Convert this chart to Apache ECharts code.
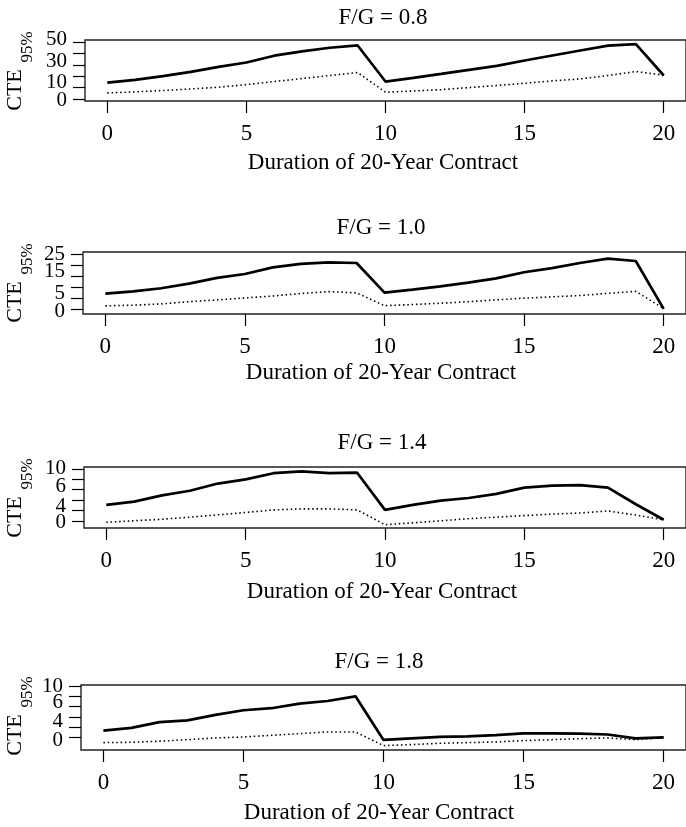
<!DOCTYPE html>
<html>
<head>
<meta charset="utf-8">
<script src="https://cdn.jsdelivr.net/npm/echarts@6/dist/echarts.min.js"></script>
<style>
html,body{margin:0;padding:0;background:#fff;}
#chart{width:686px;height:827px;}
</style>
</head>
<body>
<div id="chart"></div>
<script>
// ---- data ----
const durations = [0,1,2,3,4,5,6,7,8,9,10,11,12,13,14,15,16,17,18,19,20];
const panelTitles = ['F/G = 0.8','F/G = 1.0','F/G = 1.4','F/G = 1.8'];
const xAxisTitle = 'Duration of 20-Year Contract';
const xTickValues = [0,5,10,15,20];

const solid08  = [14.4,16.8,20.0,23.8,28.2,32.0,38.0,41.8,45.0,47.0,15.3,18.5,22.0,25.6,29.0,33.8,38.2,42.6,46.8,48.2,20.6];
const dotted08 = [5.3,6.2,7.4,8.8,10.3,12.6,15.3,17.9,20.6,23.2,5.9,7.0,8.2,10.0,11.8,13.8,15.9,17.6,20.6,24.1,20.9];
const solid10  = [7.3,8.3,9.7,11.8,14.4,16.2,19.2,20.8,21.5,21.2,7.7,9.1,10.6,12.3,14.2,17.0,18.9,21.2,23.2,22.1,0.3];
const dotted10 = [1.7,2.0,2.6,3.6,4.4,5.3,6.2,7.3,8.2,7.6,1.8,2.3,2.9,3.6,4.4,5.2,5.8,6.4,7.4,8.3,0.5];
const solid14  = [3.06,3.7,4.9,5.8,7.2,8.0,9.2,9.55,9.2,9.3,2.1,3.06,3.9,4.4,5.2,6.4,6.8,6.9,6.4,3.2,0.2];
const dotted14 = [-0.3,0.0,0.3,0.7,1.15,1.6,2.1,2.3,2.3,2.1,-0.76,-0.4,0.0,0.4,0.7,1.0,1.3,1.5,1.9,1.1,0.2];
const solid18  = [1.35,1.9,3.0,3.35,4.4,5.3,5.7,6.6,7.1,8.0,-0.45,-0.13,0.13,0.26,0.5,0.84,0.84,0.77,0.6,-0.13,0.06];
const dotted18 = [-0.97,-0.9,-0.7,-0.4,-0.06,0.13,0.45,0.77,1.1,1.1,-1.55,-1.35,-1.1,-0.97,-0.84,-0.58,-0.4,-0.2,-0.06,-0.4,0.0];

const yTicks08 = [0,10,20,30,40,50];  const yLabels08 = [0,10,30,50];
const yTicks10 = [0,5,10,15,20,25];   const yLabels10 = [0,5,15,25];
const yTicks14 = [0,2,4,6,8,10];      const yLabels14 = [0,4,6,10];
const yTicks18 = [0,2,4,6,8,10];      const yLabels18 = [0,4,6,10];

const yRange08 = [-1.8, 51.8];
const yRange10 = [-2.0, 26.2];
const yRange14 = [-1.4, 10.4];
const yRange18 = [-2.4, 10.2];
const xRange = [-0.8, 20.8];

// ---- layout (pixels) ----
const FONT = '"Liberation Serif","DejaVu Serif",serif';
// vertical nudges (px, + = down) of the y tick labels, in the order of the yLabels arrays
const panels = [
  {solid: solid08, dotted: dotted08, yTicks: yTicks08, yLabels: yLabels08, yRange: yRange08, nudge: [2,-5,-3,-3], left: 85, top: 40,  height: 61, titleY: 18,  xTitleY: 163},
  {solid: solid10, dotted: dotted10, yTicks: yTicks10, yLabels: yLabels10, yRange: yRange10, nudge: [2,-5,-5,0],  left: 83, top: 252, height: 62, titleY: 228, xTitleY: 373},
  {solid: solid14, dotted: dotted14, yTicks: yTicks14, yLabels: yLabels14, yRange: yRange14, nudge: [2,6,-3,-1],  left: 84, top: 467, height: 61, titleY: 443, xTitleY: 592},
  {solid: solid18, dotted: dotted18, yTicks: yTicks18, yLabels: yLabels18, yRange: yRange18, nudge: [3,5,-4,0],   left: 81, top: 685, height: 65, titleY: 662, xTitleY: 813}
];

const grids = [], xAxes = [], yAxes = [], series = [], graphics = [];
panels.forEach((p, i) => {
  grids.push({left: p.left, right: -4, top: p.top, height: p.height, show: true,
    borderColor: '#222', borderWidth: 1.4, backgroundColor: 'transparent'});
  xAxes.push({type: 'value', gridIndex: i, min: xRange[0], max: xRange[1],
    axisLine: {show: false, onZero: false}, splitLine: {show: false},
    axisTick: {show: true, length: 12, inside: false, customValues: xTickValues, lineStyle: {color: '#000', width: 1.2}},
    axisLabel: {show: true, customValues: xTickValues, margin: 21, color: '#000', fontFamily: FONT, fontSize: 23,
      showMinLabel: true, showMaxLabel: true, hideOverlap: false}
  });
  // main y axis: ticks only
  const mainY = yAxes.length;
  yAxes.push({type: 'value', gridIndex: i, position: 'left', min: p.yRange[0], max: p.yRange[1],
    axisLine: {show: false, onZero: false}, splitLine: {show: false},
    axisTick: {show: true, length: 12, inside: false, customValues: p.yTicks, lineStyle: {color: '#000', width: 1.2}},
    axisLabel: {show: false}
  });
  // one label-only axis per tick label (keeps R-style crowded labels all visible)
  p.yLabels.forEach((v, k) => {
    const d = p.nudge[k];
    yAxes.push({type: 'value', gridIndex: i, position: 'left', offset: 0, min: p.yRange[0], max: p.yRange[1],
      axisLine: {show: false, onZero: false}, splitLine: {show: false}, axisTick: {show: false},
      axisLabel: {show: true, customValues: [v], margin: 18, showMinLabel: true, showMaxLabel: true,
        formatter: '{t|{value}}',
        rich: {t: {fontFamily: FONT, fontSize: 21, color: '#000',
          padding: d < 0 ? [0, 0, -2 * d, 0] : [2 * d, 0, 0, 0]}}}
    });
  });
  series.push({type: 'line', xAxisIndex: i, yAxisIndex: mainY, showSymbol: false, silent: true,
    data: durations.map((d, k) => [d, p.solid[k]]),
    lineStyle: {color: '#000', width: 2.7, type: 'solid'}, z: 3});
  series.push({type: 'line', xAxisIndex: i, yAxisIndex: mainY, showSymbol: false, silent: true,
    data: durations.map((d, k) => [d, p.dotted[k]]),
    lineStyle: {color: '#000', width: 1.6, type: [1.5, 2.8]}, z: 2});
  const cx = p.left + 298;
  graphics.push({type: 'text', x: cx, y: p.titleY, style: {text: panelTitles[i], align: 'center', verticalAlign: 'middle', fill: '#000', font: '23px ' + FONT}});
  graphics.push({type: 'text', x: cx, y: p.xTitleY, style: {text: xAxisTitle, align: 'center', verticalAlign: 'middle', fill: '#000', font: '23px ' + FONT}});
  graphics.push({type: 'text', x: 15, y: p.top + 50, rotation: Math.PI / 2, style: {text: 'CTE', align: 'center', verticalAlign: 'middle', fill: '#000', font: '22px ' + FONT}});
  graphics.push({type: 'text', x: 28, y: p.top + 7, rotation: Math.PI / 2, style: {text: '95%', align: 'center', verticalAlign: 'middle', fill: '#000', font: '17px ' + FONT}});
});

const chart = echarts.init(document.getElementById('chart'), null, {renderer: 'canvas'});
chart.setOption({
  animation: false,
  backgroundColor: '#fff',
  grid: grids,
  xAxis: xAxes,
  yAxis: yAxes,
  series: series,
  graphic: graphics
});
</script>
</body>
</html>
